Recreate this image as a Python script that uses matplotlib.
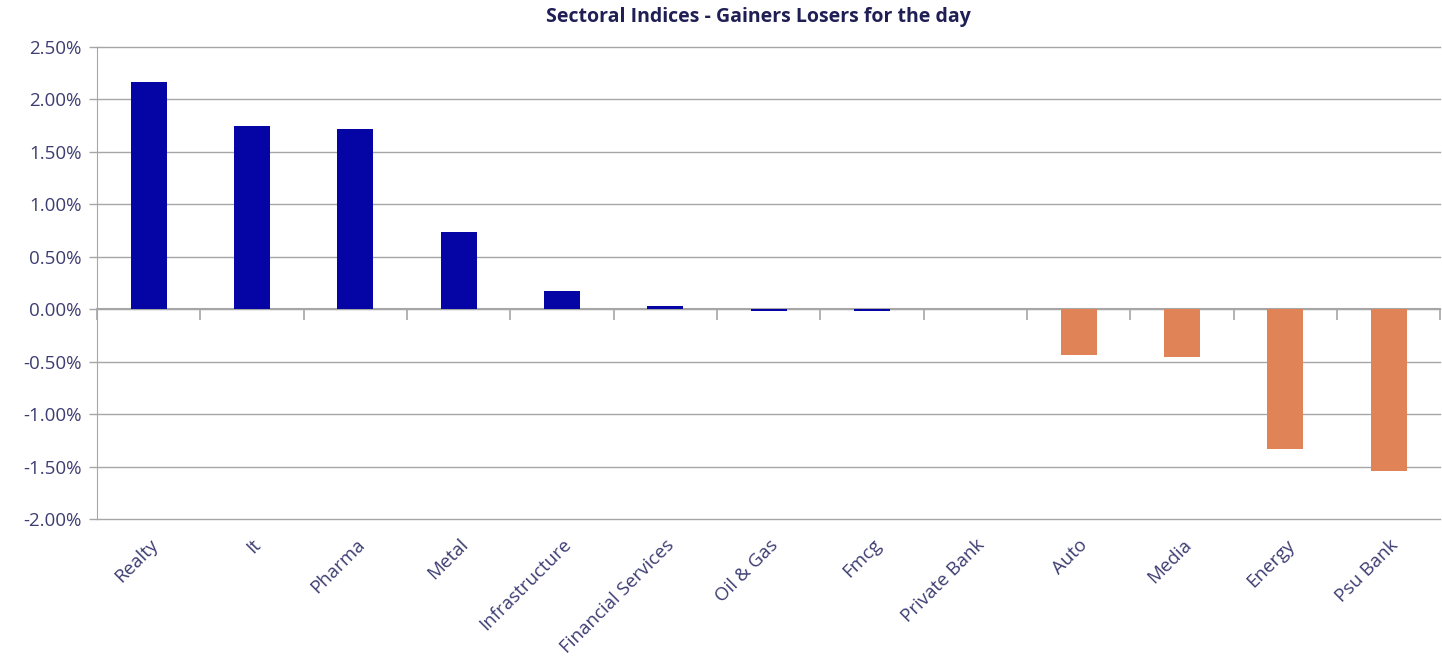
import matplotlib
matplotlib.use("Agg")
import matplotlib.pyplot as plt
import numpy as np
from matplotlib.ticker import FuncFormatter, FixedLocator

categories = ["Realty", "It", "Pharma", "Metal", "Infrastructure", "Financial Services",
              "Oil & Gas", "Fmcg", "Private Bank", "Auto", "Media", "Energy", "Psu Bank"]
gainers = [2.17, 1.745, 1.72, 0.74, 0.17, 0.03, -0.02, -0.02, 0.0, 0.0, 0.0, 0.0, 0.0]
losers = [0.0, 0.0, 0.0, 0.0, 0.0, 0.0, 0.0, 0.0, 0.0, -0.44, -0.46, -1.33, -1.54]
yticks = [-2.0, -1.5, -1.0, -0.5, 0.0, 0.5, 1.0, 1.5, 2.0, 2.5]
title = "Sectoral Indices - Gainers Losers for the day"

plt.rcParams['font.family'] = ['Open Sans', 'DejaVu Sans']
text_color = "#3d3d72"
grid_color = "#a6a6a6"

fig = plt.figure(figsize=(14.42, 6.61), dpi=100)
ax = fig.add_axes([0.0673, 0.2148, 0.9315, 0.7142])

x = np.arange(len(categories))
ax.bar(x, gainers, width=0.35, color="#0505a5", zorder=3)
ax.bar(x, losers, width=0.35, color="#e08457", zorder=3)

ax.set_xlim(-0.5, len(categories) - 0.5)
ax.set_ylim(yticks[0], yticks[-1])
ax.set_yticks(yticks)
ax.yaxis.set_major_formatter(FuncFormatter(lambda v, p: f"{v:.2f}%"))
ax.grid(axis='y', color=grid_color, linewidth=1.0, zorder=0)
for gl in ax.get_ygridlines():
    gl.set_clip_on(False)
ax.tick_params(axis='y', colors=grid_color, labelcolor=text_color, labelsize=13.5,
               length=6, width=1, direction='out', pad=5)

for s in ['top', 'right']:
    ax.spines[s].set_visible(False)
ax.spines['left'].set_color(grid_color)
ax.spines['bottom'].set_position(('data', 0))
ax.spines['bottom'].set_color(grid_color)
ax.spines['bottom'].set_linewidth(1.5)
ax.set_axisbelow(False)

# boundary ticks on the zero line
ax.xaxis.set_major_locator(FixedLocator(np.arange(len(categories) + 1) - 0.5))
ax.tick_params(axis='x', colors=grid_color, length=8, width=1.2, direction='out', labelbottom=False)

# category labels at bottom
sec = ax.secondary_xaxis(0.0)
sec.set_xticks(x)
sec.set_xticklabels(categories, rotation=45, ha='right', rotation_mode='anchor')
sec.tick_params(axis='x', length=0, pad=12, labelsize=13.5, labelcolor=text_color)
sec.spines['bottom'].set_visible(False)

fig.suptitle(title, x=0.526, y=0.99, fontsize=14, fontweight='bold', color="#1f1f55")

fig.savefig("out.png", dpi=100)
